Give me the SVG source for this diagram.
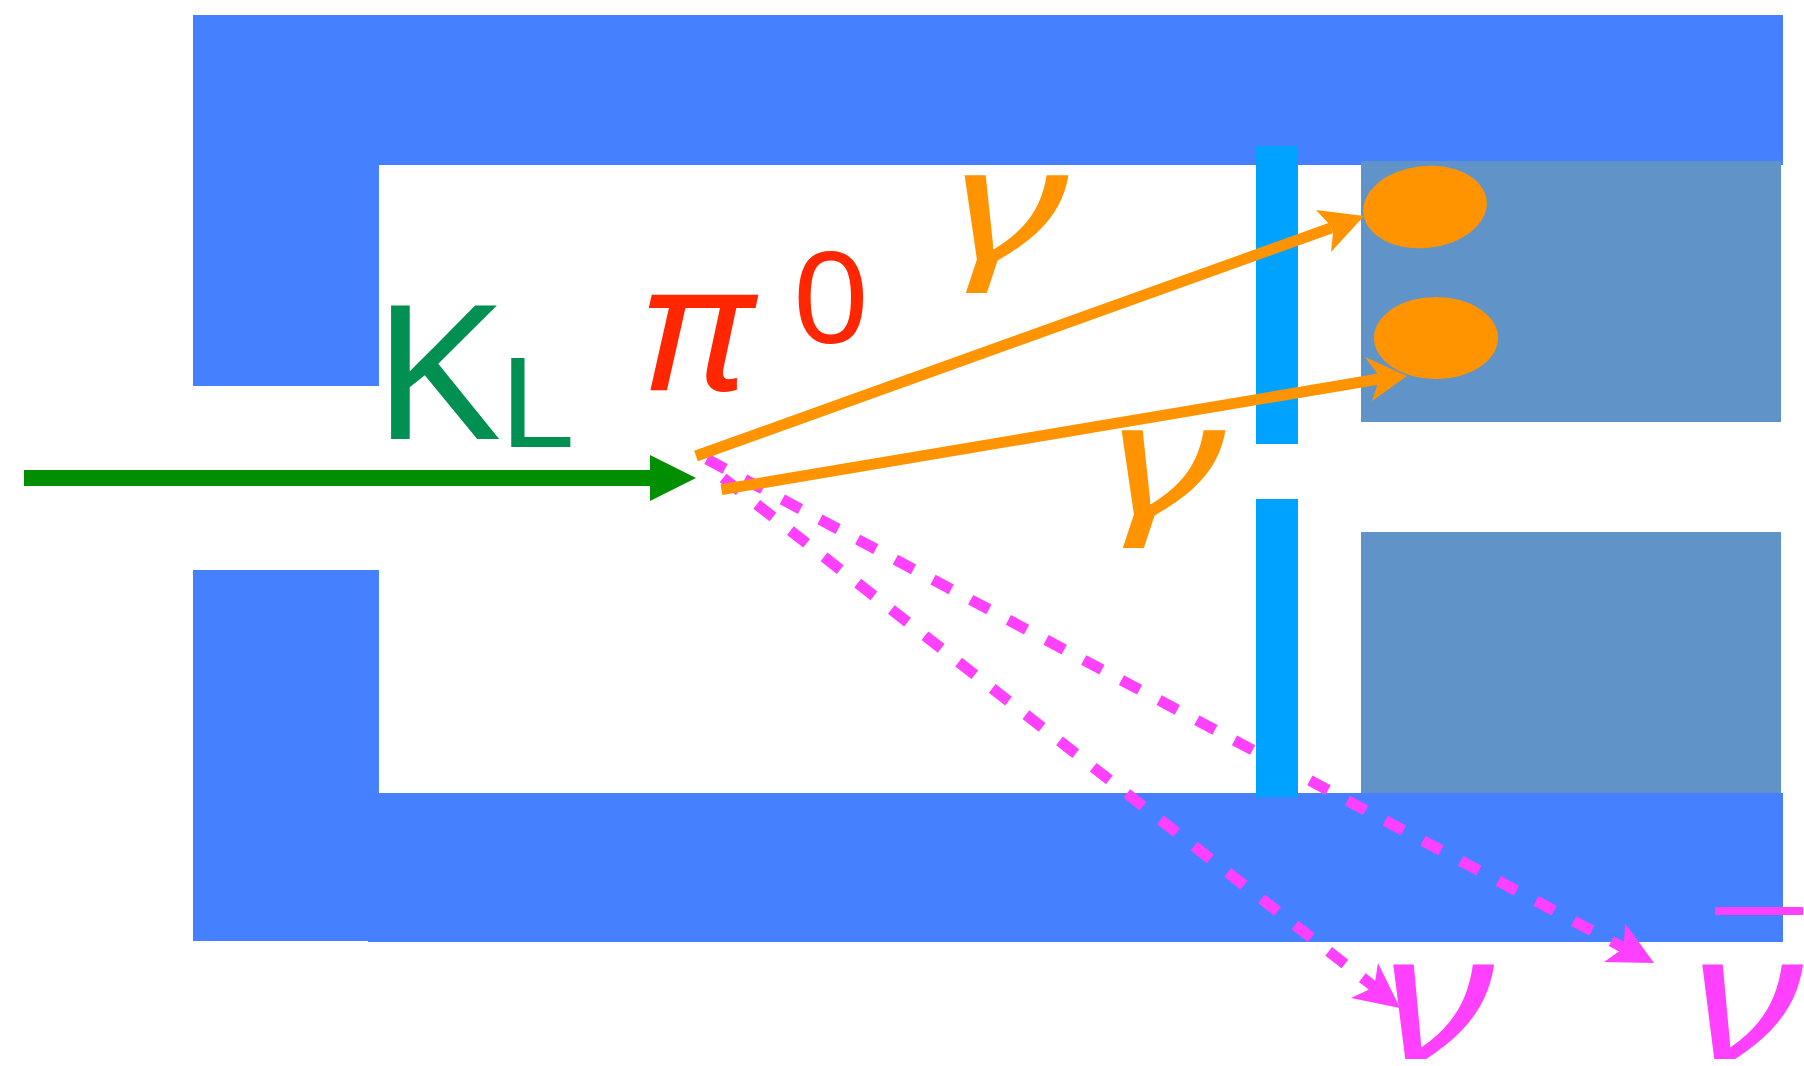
<svg xmlns="http://www.w3.org/2000/svg" width="1804" height="1066" viewBox="0 0 1804 1066">
<style>
.wall{fill:#4480ff}
.veto{fill:#00a2ff}
.cal{fill:#6094c8}
.hit{fill:#ff9400}
.ph{stroke:#ff9400;stroke-width:11;fill:none}
.nu{stroke:#ff40ff;stroke-width:11;fill:none;stroke-dasharray:20.600 22.100}
text{font-family:"Noto Sans",sans-serif;font-size:100px}
.g{font-style:italic}
</style>
<rect width="1804" height="1066" fill="#fff"/>
<g id="detector-walls">
<rect class="wall" x="193" y="15" width="1590" height="150"/>
<rect class="wall" x="193" y="15" width="186" height="371"/>
<rect class="wall" x="193" y="570" width="186" height="371"/>
<rect class="wall" x="368" y="793" width="1415" height="149"/>
</g>
<g id="calorimeter">
<rect class="cal" x="1361" y="161" width="420" height="261"/>
<rect class="cal" x="1361" y="532" width="420" height="261"/>
<ellipse class="hit" cx="1425" cy="207" rx="62" ry="41" transform="rotate(-6 1425 207)"/>
<ellipse class="hit" cx="1436" cy="338" rx="62" ry="41"/>
</g>
<g id="connectors">
<path class="nu" d="M706.900 459.200L1628 950"/>
<path class="nu" d="M723.100 478L1375 987.500"/>
<path fill="#ff40ff" d="M1654 963L1625 923L1624 942L1619.500 951L1604 962Z"/>
<path fill="#ff40ff" d="M1400 1008L1378 963L1375 982L1368 990L1351 998Z"/>
</g>
<g id="veto">
<rect class="veto" x="1256" y="146" width="42" height="298"/>
<rect class="veto" x="1256" y="499" width="42" height="298"/>
</g>
<g id="photons">
<path class="ph" d="M696 456L1331 228"/>
<path class="ph" d="M721.500 489.700L1382 378.500"/>
<path class="hit" d="M1364 216L1316 210L1329 224L1333 233L1331 252Z"/>
<path class="hit" d="M1407 376L1365 357L1377 373L1378 383L1372 401Z"/>
<path d="M24 470H650V455L696 478L650 501V486H24Z" fill="#008f00"/>
</g>
<g id="label-KL" fill="#009051">
<text transform="translate(371 439) scale(2.07 1.86)">K</text>
<text transform="translate(497 447) scale(1.47 1.25)">L</text>
</g>
<g id="label-pi0" fill="#ff2600">
<text class="g" transform="translate(641 390) scale(1.85 1.78)">π</text>
<text transform="translate(792 343) scale(1.36 1.26)">0</text>
</g>
<g id="label-gamma1" fill="#ff9400"><text class="g" transform="translate(953 260) scale(2.42 1.57)">γ</text></g>
<g id="label-gamma2" fill="#ff9400"><text class="g" transform="translate(1110 515) scale(2.42 1.57)">γ</text></g>
<g id="label-nu" fill="#ff40ff"><text class="g" transform="translate(1382 1059) scale(2.35 1.76)">ν</text></g>
<g id="label-nubar" fill="#ff40ff"><text class="g" transform="translate(1691 1059) scale(2.35 1.76)">ν</text><rect x="1715" y="907" width="88" height="8"/></g>
</svg>
